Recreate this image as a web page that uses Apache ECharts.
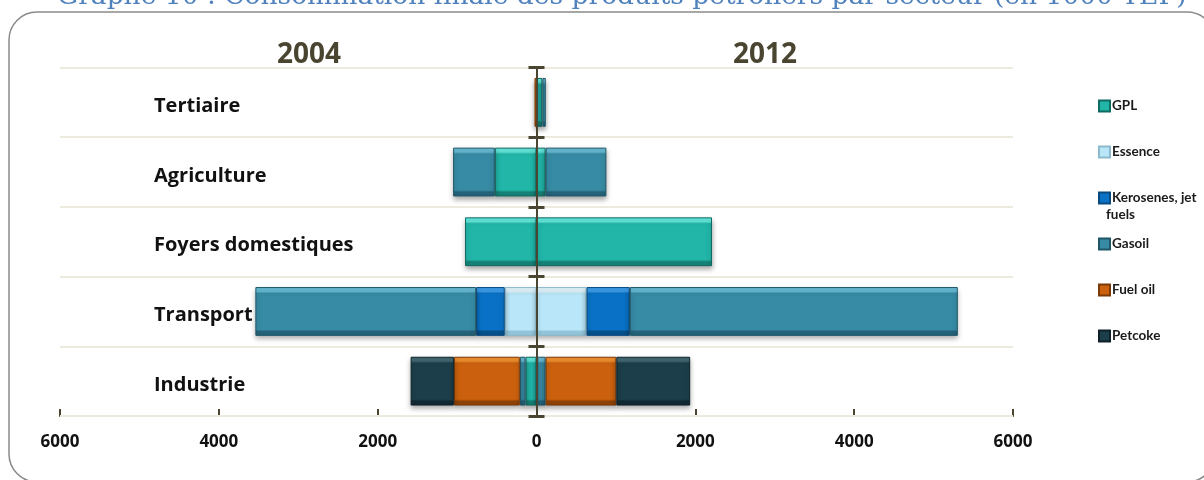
<!DOCTYPE html>
<html>
<head>
<meta charset="utf-8">
<script src="https://cdn.jsdelivr.net/npm/echarts@6/dist/echarts.min.js"></script>
<style>
  html, body { margin: 0; padding: 0; background: #ffffff; }
  #chart { width: 1204px; height: 480px; }
</style>
</head>
<body>
<div id="chart"></div>
<script>
// Sectors, listed top to bottom
const categories = ['Tertiaire', 'Agriculture', 'Foyers domestiques', 'Transport', 'Industrie'];

// Products, stacked from the centre axis outwards
const products = ['GPL', 'Essence', 'Kerosenes, jet fuels', 'Gasoil', 'Fuel oil', 'Petcoke'];

// Consumption in 1000 TEP, per sector (same order as categories)
const gpl2004      = [0, 525, 900, 0, 138];
const gpl2012      = [75, 115, 2210, 0, 10];
const essence2004  = [0, 0, 0, 400, 0];
const essence2012  = [0, 0, 0, 630, 0];
const kero2004     = [0, 0, 0, 360, 0];
const kero2012     = [0, 0, 0, 545, 0];
const gasoil2004   = [0, 525, 0, 2780, 72];
const gasoil2012   = [42, 765, 0, 4130, 105];
const fuel2004     = [25, 0, 0, 0, 830];
const fuel2012     = [0, 0, 0, 0, 890];
const petcoke2004  = [0, 0, 0, 0, 545];
const petcoke2012  = [0, 0, 0, 0, 930];

const years = ['2004', '2012'];
const xTicks = [-6000, -4000, -2000, 0, 2000, 4000, 6000];

const values2004 = [gpl2004, essence2004, kero2004, gasoil2004, fuel2004, petcoke2004];
const values2012 = [gpl2012, essence2012, kero2012, gasoil2012, fuel2012, petcoke2012];

// Bevelled fill: light top rim, flat face, dark bottom rim
const palette = [
  { main: '#21B6A8', light: '#63E8DC', dark: '#168277', border: '#0F6B62' },
  { main: '#B9E6F8', light: '#E2F6FE', dark: '#93C6DA', border: '#8DB9CC' },
  { main: '#0A72C6', light: '#3C9DEA', dark: '#06508C', border: '#064A80' },
  { main: '#378BA4', light: '#66BBD4', dark: '#24637A', border: '#1F5668' },
  { main: '#CB610E', light: '#F2902F', dark: '#8F4306', border: '#7A3905' },
  { main: '#1C3E4A', light: '#426872', dark: '#122A33', border: '#0E2128' }
];

function bevel(c) {
  return new echarts.graphic.LinearGradient(0, 0, 0, 1, [
    { offset: 0, color: c.light },
    { offset: 0.09, color: c.light },
    { offset: 0.13, color: c.main },
    { offset: 0.87, color: c.main },
    { offset: 0.91, color: c.dark },
    { offset: 1, color: c.dark }
  ]);
}

const axisColor = '#4A4530';
const labelFont = "'Open Sans', 'Liberation Sans', sans-serif";
const legendFont = "Lato, 'Open Sans', sans-serif";

const series = [];
products.forEach(function (name, i) {
  const style = {
    color: bevel(palette[i]),
    borderColor: palette[i].border,
    borderWidth: 1,
    shadowColor: 'rgba(0,0,0,0.35)',
    shadowBlur: 5,
    shadowOffsetY: 3
  };
  // 2004 goes to the left of the centre axis, 2012 to the right
  series.push({
    name: name, type: 'bar', stack: 'total', barWidth: '70%',
    xAxisIndex: 0, yAxisIndex: 0, itemStyle: style, z: 3,
    data: values2004[i].map(function (v) { return v === 0 ? '-' : -v; })
  });
  series.push({
    name: name, type: 'bar', stack: 'total', barWidth: '70%',
    xAxisIndex: 0, yAxisIndex: 0, itemStyle: style, z: 3,
    data: values2012[i].map(function (v) { return v === 0 ? '-' : v; })
  });
});

const gridBox = { left: 60, right: 191, top: 67.5, bottom: 64, containLabel: false, outerBoundsMode: 'none' };

const chart = echarts.init(document.getElementById('chart'), null, { renderer: 'canvas' });

chart.setOption({
  backgroundColor: '#ffffff',
  animation: false,
  // second grid only carries the right-hand half of the centre-axis tick marks
  grid: [Object.assign({}, gridBox), Object.assign({}, gridBox)],
  title: [
    { text: years[0], left: 304, top: 50, textAlign: 'center', textVerticalAlign: 'middle',
      textStyle: { fontFamily: labelFont, fontSize: 28, fontWeight: 'bold', color: axisColor } },
    { text: years[1], left: 760, top: 50, textAlign: 'center', textVerticalAlign: 'middle',
      textStyle: { fontFamily: labelFont, fontSize: 28, fontWeight: 'bold', color: axisColor } }
  ],
  legend: {
    orient: 'vertical',
    left: 1093,
    top: 93,
    itemWidth: 11,
    itemHeight: 11,
    itemGap: 30,
    icon: 'rect',
    data: products,
    formatter: function (name) {
      return name === 'Kerosenes, jet fuels' ? 'Kerosenes, jet' : name;
    },
    textStyle: { fontFamily: legendFont, fontSize: 13.5, fontWeight: 'bold', color: '#1A1A1A', lineHeight: 16, padding: [0, 0, 0, -3] }
  },
  xAxis: [
    {
      type: 'value', gridIndex: 0,
      min: xTicks[0], max: xTicks[xTicks.length - 1], interval: 2000,
      axisLine: { show: true, onZero: false, lineStyle: { color: axisColor, width: 2 } },
      axisTick: { show: true, inside: true, length: 7, lineStyle: { color: axisColor, width: 2 } },
      splitLine: { show: false },
      axisLabel: {
        margin: 18,
        fontFamily: labelFont, fontSize: 17, fontWeight: 'bold', color: '#111111',
        formatter: function (v) { return String(Math.abs(v)); }
      }
    },
    {
      type: 'value', gridIndex: 1,
      min: xTicks[0], max: xTicks[xTicks.length - 1], interval: 2000,
      show: false
    }
  ],
  yAxis: [
    {
      // centre axis, left half of the tick marks
      type: 'category', gridIndex: 0,
      data: categories,
      inverse: true,
      z: 5,
      axisLine: { show: true, onZero: true, lineStyle: { color: axisColor, width: 2 } },
      axisTick: { show: true, length: 8, lineStyle: { color: axisColor, width: 3 } },
      splitLine: { show: true, lineStyle: { color: '#EDEAE0', width: 2 } },
      axisLabel: { show: false }
    },
    {
      // centre axis, right half of the tick marks
      type: 'category', gridIndex: 1,
      data: categories,
      inverse: true,
      z: 5,
      axisLine: { show: true, onZero: true, lineStyle: { color: axisColor, width: 2 } },
      axisTick: { show: true, inside: true, length: 8, lineStyle: { color: axisColor, width: 3 } },
      splitLine: { show: false },
      axisLabel: { show: false }
    },
    {
      // sector names, left-aligned inside the plot
      type: 'category', gridIndex: 0,
      data: categories,
      inverse: true,
      position: 'left',
      axisLine: { show: false, onZero: false },
      axisTick: { show: false },
      splitLine: { show: false },
      axisLabel: {
        margin: -94, align: 'left', verticalAlign: 'top',
        lineHeight: 20,
        padding: [-6, 0, 0, 0],
        fontFamily: labelFont, fontSize: 20, fontWeight: 'bold', color: '#111111'
      }
    }
  ],
  graphic: [
    {
      type: 'rect', z: -10, silent: true,
      shape: { x: 9, y: 12, width: 1206, height: 470, r: 28 },
      style: { fill: 'none', stroke: '#8A8A8A', lineWidth: 1.5 }
    },
    {
      type: 'text', left: 57, top: -16, silent: true,
      style: {
        text: 'Graphe 10 : Consommation finale des produits pétroliers par secteur (en 1000 TEP)',
        font: "26.5px 'DejaVu Serif', 'Liberation Serif', serif",
        fill: '#4F81BD'
      }
    },
    {
      type: 'text', left: 1106, top: 208, silent: true,
      style: {
        text: 'fuels',
        font: "bold 13.5px Lato, 'Open Sans', sans-serif",
        fill: '#1A1A1A'
      }
    }
  ],
  series: series
});
</script>
</body>
</html>
